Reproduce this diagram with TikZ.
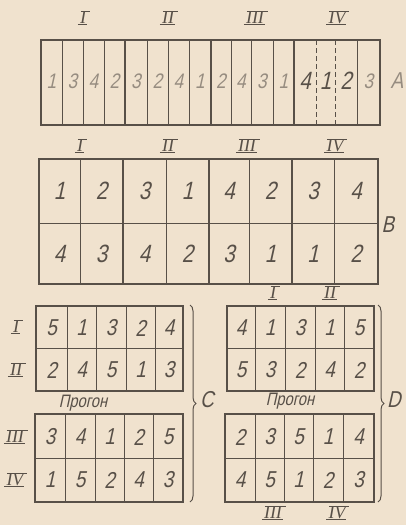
\documentclass[tikz,border=0pt]{standalone}
\usepackage{fontspec}
\setmainfont{Liberation Sans}
\newfontfamily\gost[FakeStretch=0.82,FakeSlant=0.22]{Liberation Sans}
\newfontfamily\romfont{Liberation Serif}
\usetikzlibrary{decorations.pathreplacing}
\definecolor{bg}{RGB}{240,226,206}
\definecolor{ink}{RGB}{88,80,72}
\definecolor{faint}{RGB}{150,140,128}
\tikzset{
  cell/.style={draw=ink, line width=1pt},
  outer/.style={draw=ink, line width=1.8pt},
  grp/.style={draw=ink, line width=1.5pt},
  dashline/.style={draw=ink, line width=0.8pt, dashed, dash pattern=on 5pt off 3pt},
  digit/.style={text=ink, font=\fontsize{25}{25}\gost, inner sep=0pt},
  sdigit/.style={text=faint, font=\fontsize{21}{21}\gost, inner sep=0pt},
  cdigit/.style={text=ink, font=\fontsize{23}{23}\gost, inner sep=0pt},
  roman/.style={text=ink, font=\fontsize{18}{18}\romfont\itshape, inner sep=0.5pt},
  romanbar/.style={draw=ink, line width=1.1pt},
  letter/.style={text=ink, font=\fontsize{23}{23}\gost, inner sep=0pt},
  progon/.style={text=ink, font=\fontsize{18}{18}\gost, inner sep=0pt},
  bracedeco/.style={draw=ink, line width=1pt, decorate, decoration={brace, amplitude=6pt}},
}
\newcommand\romlab[3]{%
  \node[roman] (#1) at (#2) {#3};
  \draw[romanbar] ([xshift=1.5pt]#1.north west) -- ([xshift=3pt]#1.north east);
  \draw[romanbar] ([xshift=-1.5pt]#1.south west) -- ([xshift=0pt]#1.south east);}
\begin{document}
\begin{tikzpicture}[x=1pt,y=-1pt]
\fill[bg] (0,0) rectangle (406,525);
\useasboundingbox (0,0) rectangle (406,525);

% ---------- A: top strip ----------
\foreach \xl/\xr/\d/\s [count=\i] in {41/62/1/sdigit,62/83/3/sdigit,83/104/4/sdigit,104/125/2/sdigit,
  125/147/3/sdigit,147/168/2/sdigit,168/189/4/sdigit,189/211/1/sdigit,
  211/231/2/sdigit,231/251/4/sdigit,251/273/3/sdigit,273/294/1/sdigit,
  294/316/4/digit,316/335/1/digit,335/357/2/digit,357/380/3/sdigit}{
  \node[\s] (t\i) at ({(\xl+\xr)/2},81) {\d};
}
\foreach \x in {62,83,104,147,168,189,231,251,273,357}{\draw[cell] (\x,40) -- (\x,125);}
\foreach \x in {125,211,294}{\draw[grp] (\x,40) -- (\x,125);}
\foreach \x in {316,335}{\draw[dashline] (\x,40) -- (\x,125);}
\draw[outer] (41,40) rectangle (380,125);
\romlab{ta}{83,18}{I}
\romlab{tb}{168,18}{II}
\romlab{tc}{255,18}{III}
\romlab{td}{337,18}{IV}
\node[letter, text=faint] (lA) at (397,81) {A};

% ---------- B ----------
\foreach \xl/\xr/\a/\b [count=\i] in {39/80/1/4,80/123/2/3,123/166/3/4,166/209/1/2,
  209/249/4/3,249/292/2/1,292/334/3/1,334/378/4/2}{
  \node[digit] (ba\i) at ({(\xl+\xr)/2},191) {\a};
  \node[digit] (bb\i) at ({(\xl+\xr)/2},254) {\b};
}
\foreach \x in {80,166,249,334}{\draw[cell] (\x,159) -- (\x,284);}
\foreach \x in {123,209,292}{\draw[grp] (\x,159) -- (\x,284);}
\draw[cell] (39,223) -- (378,223);
\draw[outer] (39,159) rectangle (378,284);
\romlab{ba}{80,146}{I}
\romlab{bb}{168,146}{II}
\romlab{bc}{247,146}{III}
\romlab{bd}{335,146}{IV}
\node[letter] (lB) at (388,225) {B};

% ---------- C ----------
\foreach \xl/\xr/\a/\b [count=\i] in {36/67/5/2,67/96/1/4,96/126/3/5,126/155/2/1,155/183/4/3}{
  \node[cdigit] (cu\i) at ({(\xl+\xr)/2},328) {\a};
  \node[cdigit] (cv\i) at ({(\xl+\xr)/2},370) {\b};
}
\foreach \x in {67,96,126,155}{\draw[cell] (\x,306) -- (\x,391);}
\draw[cell] (36,348) -- (183,348);
\draw[outer] (36,306) rectangle (183,391);
\foreach \xl/\xr/\a/\b [count=\i] in {35/65/3/1,65/95/4/5,95/124/1/2,124/153/2/4,153/183/5/3}{
  \node[cdigit] (cw\i) at ({(\xl+\xr)/2},437) {\a};
  \node[cdigit] (cx\i) at ({(\xl+\xr)/2},480) {\b};
}
\foreach \x in {65,95,124,153}{\draw[cell] (\x,414) -- (\x,502);}
\draw[cell] (35,458) -- (183,458);
\draw[outer] (35,414) rectangle (183,502);
\romlab{ca}{16,327}{I}
\romlab{cb}{16,370}{II}
\romlab{cc}{15,437}{III}
\romlab{cd}{15,480}{IV}
\node[progon] (pc) at (83,403) {Прогон};
\draw[bracedeco] (190,305) -- (190,502);
\node[letter] (lC) at (207,400) {C};

% ---------- D ----------
\foreach \xl/\xr/\a/\b [count=\i] in {227/255/4/5,255/285/1/3,285/315/3/2,315/344/1/4,344/374/5/2}{
  \node[cdigit] (du\i) at ({(\xl+\xr)/2},328) {\a};
  \node[cdigit] (dv\i) at ({(\xl+\xr)/2},370) {\b};
}
\foreach \x in {255,285,315,344}{\draw[cell] (\x,306) -- (\x,391);}
\draw[cell] (227,348) -- (374,348);
\draw[outer] (227,306) rectangle (374,391);
\foreach \xl/\xr/\a/\b [count=\i] in {225/255/2/4,255/284/3/5,284/313/5/1,313/343/1/2,343/374/4/3}{
  \node[cdigit] (dw\i) at ({(\xl+\xr)/2},437) {\a};
  \node[cdigit] (dx\i) at ({(\xl+\xr)/2},480) {\b};
}
\foreach \x in {255,284,313,343}{\draw[cell] (\x,414) -- (\x,502);}
\draw[cell] (225,458) -- (374,458);
\draw[outer] (225,414) rectangle (374,502);
\romlab{da}{273,293}{I}
\romlab{db}{330,293}{II}
\romlab{dc}{273,513}{III}
\romlab{dd}{337,513}{IV}
\node[progon] (pd) at (290,401) {Прогон};
\draw[bracedeco] (378,305) -- (378,502);
\node[letter] (lD) at (394,400) {D};
\end{tikzpicture}
\end{document}
